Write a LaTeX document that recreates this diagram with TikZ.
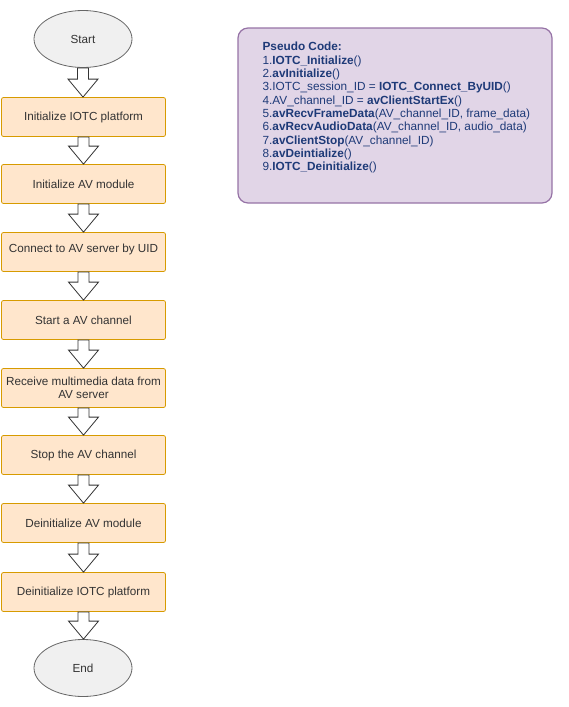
\documentclass[tikz,border=0pt]{standalone}
\usepackage{fontspec}
\setmainfont{Liberation Sans}
\usetikzlibrary{shapes.geometric,calc}
\definecolor{boxfill}{HTML}{FFE6CC}
\definecolor{boxline}{HTML}{D79B00}
\definecolor{ellfill}{HTML}{F0F0F0}
\definecolor{ellline}{HTML}{666666}
\definecolor{codefill}{HTML}{E1D5E7}
\definecolor{codeline}{HTML}{9673A6}
\definecolor{codetext}{HTML}{1E3A78}
\definecolor{txt}{HTML}{333333}
\tikzset{
  stepbox/.style={rectangle, rounded corners=2pt, draw=boxline, fill=boxfill, line width=0.8pt,
    minimum width=164pt, minimum height=39pt, inner sep=0pt, align=center, text=txt,
    font=\fontsize{11.7}{13}\selectfont},
  termnode/.style={ellipse, draw=ellline, fill=ellfill, line width=0.8pt,
    minimum width=98pt, minimum height=57pt, inner sep=0pt, text=txt,
    font=\fontsize{11.7}{13}\selectfont},
  blockarr/.style={draw=black!80, fill=white, line width=0.8pt, line join=miter},
}
\newcommand{\blockarrow}[2]{%
  \path[blockarr] let \p1=(#1.south), \p2=(#2.north) in
    (\x1-5.5pt,\y1) -- (\x1+5.5pt,\y1) -- (\x1+5.5pt,\y2+18pt) -- (\x1+15pt,\y2+18pt)
    -- (\x1,\y2) -- (\x1-15pt,\y2+18pt) -- (\x1-5.5pt,\y2+18pt) -- cycle;}
\begin{document}
\begin{tikzpicture}[x=1pt,y=-1pt]
\useasboundingbox (0,0) rectangle (568,707);
\node[termnode] (start) at (83,39) {Start};
\node[stepbox] (b1) at (83.5,117) {Initialize IOTC platform};
\node[stepbox] (b2) at (83.5,184) {Initialize AV module};
\node[stepbox] (b3) at (83.5,252) {\raisebox{7pt}{Connect to AV server by UID}};
\node[stepbox] (b4) at (83.5,320) {Start a AV channel};
\node[stepbox] (b5) at (83.5,388) {Receive multimedia data from\\AV server};
\node[stepbox] (b6) at (83.5,455) {Stop the AV channel};
\node[stepbox] (b7) at (83.5,523) {Deinitialize AV module};
\node[stepbox] (b8) at (83.5,592) {Deinitialize IOTC platform};
\node[termnode] (end) at (83,668) {End};
\blockarrow{start}{b1}
\blockarrow{b1}{b2}
\blockarrow{b2}{b3}
\blockarrow{b3}{b4}
\blockarrow{b4}{b5}
\blockarrow{b5}{b6}
\blockarrow{b6}{b7}
\blockarrow{b7}{b8}
\blockarrow{b8}{end}
\node[rectangle, rounded corners=10pt, draw=codeline, fill=codefill, line width=1.2pt,
  minimum width=314pt, minimum height=175pt, inner sep=0pt] (code) at (395,115.5) {};
\node[anchor=north west, inner sep=0pt, align=left, text=codetext,
  font=\fontsize{11.8}{13.35}\selectfont] (codetxt) at ($(code.north west)+(25,14.5)$) {%
\textbf{Pseudo Code:}\\
1.\textbf{IOTC\_Initialize}()\\
2.\textbf{avInitialize}()\\
3.IOTC\_session\_ID = \textbf{IOTC\_Connect\_ByUID}()\\
4.AV\_channel\_ID = \textbf{avClientStartEx}()\\
5.\textbf{avRecvFrameData}(AV\_channel\_ID, frame\_data)\\
6.\textbf{avRecvAudioData}(AV\_channel\_ID, audio\_data)\\
7.\textbf{avClientStop}(AV\_channel\_ID)\\
8.\textbf{avDeintialize}()\\
9.\textbf{IOTC\_Deinitialize}()};
\end{tikzpicture}
\end{document}
